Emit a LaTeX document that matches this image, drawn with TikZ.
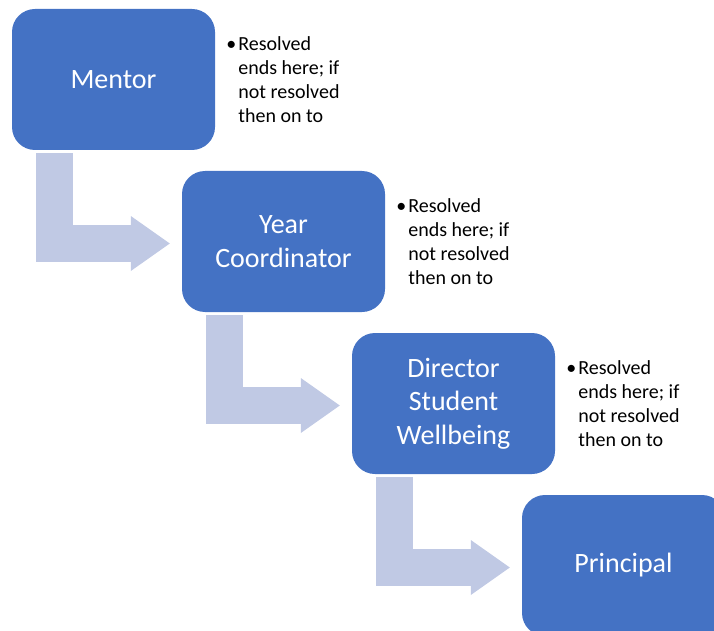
\documentclass[tikz,border=0pt]{standalone}
\usepackage{fontspec}
\setmainfont{Carlito}
\usetikzlibrary{arrows.meta, positioning}
\definecolor{boxblue}{RGB}{68,114,196}
\definecolor{flowgrey}{RGB}{192,201,228}

\begin{document}
\begin{tikzpicture}[x=1pt, y=1pt,
stage box/.style={
rectangle,
rounded corners=23pt,
fill=boxblue,
text=white,
minimum width=203pt,
minimum height=141pt,
inner sep=0pt,
align=center,
font=\fontsize{28}{33.6}\selectfont
},
note/.style={anchor=north west, inner sep=0pt,
                font=\fontsize{20}{24}\selectfont},
flow arrow/.style={draw=flowgrey, line width=37pt, line join=miter,
                -{Triangle[length=39pt, width=55pt, line width=0pt]}}
                ]

\useasboundingbox (0,0) rectangle (714,-631);
\clip (0,0) rectangle (714,-631);

\node[stage box] (mentor) at (113.5,-79.5) {Mentor};
\node[stage box] (year) at ([shift={(170,-162)}]mentor) {Year\\Coordinator};
\node[stage box] (director) at ([shift={(170,-162)}]year) {Director\\Student\\Wellbeing};
\node[stage box] (principal) at ([shift={(170,-162)}]director) {Principal};

\node[note] (note1) at ([shift={(11,-25)}]mentor.north east)
    {\begin{tabular}{@{}l@{\hspace{2pt}}l@{}}\textbullet & Resolved\\ & ends here; if\\ & not resolved\\ & then on to\end{tabular}};
\node[note] (note2) at ([shift={(11,-25)}]year.north east)
    {\begin{tabular}{@{}l@{\hspace{2pt}}l@{}}\textbullet & Resolved\\ & ends here; if\\ & not resolved\\ & then on to\end{tabular}};
\node[note] (note3) at ([shift={(11,-25)}]director.north east)
    {\begin{tabular}{@{}l@{\hspace{2pt}}l@{}}\textbullet & Resolved\\ & ends here; if\\ & not resolved\\ & then on to\end{tabular}};

\draw[flow arrow] ([shift={(42.5,-3)}]mentor.south west) |- ([shift={(-12,-2)}]year.west);
\draw[flow arrow] ([shift={(42.5,-3)}]year.south west) |- ([shift={(-12,-2)}]director.west);
\draw[flow arrow] ([shift={(42.5,-3)}]director.south west) |- ([shift={(-12,-2)}]principal.west);

\end{tikzpicture}
\end{document}
